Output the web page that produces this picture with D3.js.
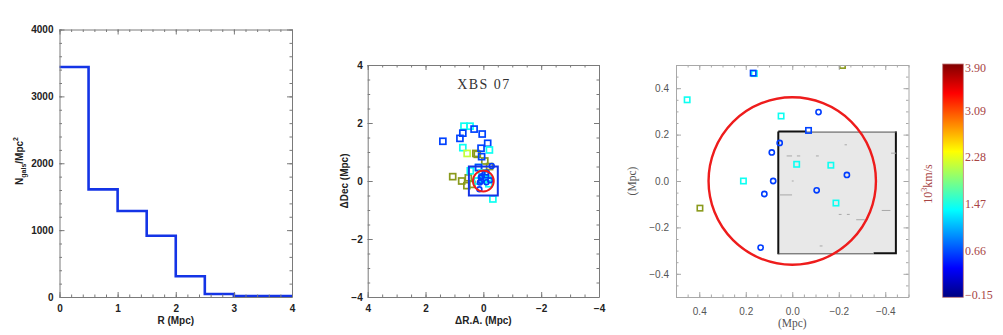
<!DOCTYPE html>
<html>
<head>
<meta charset="utf-8">
<script src="https://cdn.jsdelivr.net/npm/d3@7"></script>
<style>
  body { margin: 0; background: #fff; }
  svg { display: block; }
</style>
</head>
<body>
<script>
// radial density profile (bins of 0.5 Mpc)
var binEdges = [0, 0.5, 1, 1.5, 2, 2.5, 3, 3.5, 4];
var density = [3440, 1610, 1285, 915, 310, 45, 0, 0];

// square symbols: offsets in Mpc, velocity in 10^3 km/s
var sqRA  = [0.452, 0.163, 0.168, 0.048, 0.21, -0.019, -0.166, -0.188, -0.07,
             1.40, 0.67, 0.46, 0.32, 0.71, 0.81, 0.04, -0.15, 0.71, 0.08, -0.21, 0.56, 0.06, -0.33];
var sqDec = [0.35, 0.463, 0.465, 0.28, 0.0, 0.072, 0.068, -0.095, 0.218,
             1.37, 1.89, 1.89, 1.79, 1.65, 1.47, 1.62, 1.30, 1.15, 1.13, 1.07, 0.95, 0.84, -0.62];
var sqVel = [1.42, 1.42, 0.62, 1.42, 1.42, 1.42, 1.42, 1.42, 0.62,
             0.62, 1.42, 1.42, 0.62, 0.62, 0.62, 0.62, 0.62, 1.42, 0.62, 1.42, 2.15, 0.62, 1.42];

// olive squares (outside the velocity range)
var olRA  = [0.397, -0.216, 0.26, 0.21, -0.05, 1.06, 0.75, 0.52, 0.57];
var olDec = [-0.117, 0.498, 0.95, 0.92, 0.69, 0.15, 0.0, 0.11, -0.16];

// circle symbols
var ciRA  = [-0.113, 0.054, 0.088, 0.082, 0.12, -0.105, -0.235, 0.136, -0.29];
var ciDec = [0.297, 0.164, 0.123, 0.0, -0.056, -0.04, 0.026, -0.287, 0.52];
var ciVel = [0.6, 0.6, 0.6, 0.6, 0.6, 0.6, 0.6, 0.6, 0.6];

var rCircle = 0.36;          // Mpc
var boxHalf = 0.5;           // zoom box
var imgX = [0.06, -0.45], imgY = [0.213, -0.316];   // image footprint
// specks on the image: x0, x1, y
var speckX0 = [0.024, -0.02, -0.102, 0.053, -0.385, -0.275, -0.2, -0.235, -0.118, -0.225, -0.425, 0.002];
var speckX1 = [0.003, -0.032, -0.112, 0.003, -0.42, -0.31, -0.21, -0.245, -0.128, -0.233, -0.445, -0.004];
var speckY  = [0.108, 0.108, 0.108, -0.06, -0.127, -0.167, -0.144, -0.144, -0.28, 0.156, 0.12, 0.0];

var cbTicks = [-0.15, 0.66, 1.47, 2.28, 3.09, 3.90];
var cbRange = [-0.15, 3.90];

var jetStops = [0, 0.125, 0.375, 0.625, 0.875, 1];
var jetColors = ["#000080", "#0000ff", "#00ffff", "#ffff00", "#ff0000", "#800000"];
var jet = d3.scaleLinear().domain(jetStops).range(jetColors);
var velColor = function (v) {
  return jet((v - cbRange[0]) / (cbRange[1] - cbRange[0]));
};
var olive = "#8a9a1c";

var svg = d3.select("body").append("svg")
  .attr("width", 1003)
  .attr("height", 335);

// draws IDL style box: inward ticks on all four sides
function drawFrame(g, x, y, o) {
  var xr = x.range(), yr = y.range();
  var sides = [
    [d3.axisBottom(x), "translate(0," + yr[0] + ")", o.xMajor, o.xMinor, o.xFmt, o.xPad],
    [d3.axisTop(x), "translate(0," + yr[1] + ")", o.xMajor, o.xMinor, null, 0],
    [d3.axisLeft(y), "translate(" + xr[0] + ",0)", o.yMajor, o.yMinor, o.yFmt, o.yPad],
    [d3.axisRight(y), "translate(" + xr[1] + ",0)", o.yMajor, o.yMinor, null, 0],
  ];
  sides.forEach(function (s) {
    var minor = s[0].copy ? null : null;
    g.append("g")
      .attr("transform", s[1])
      .call(s[0].tickValues(s[3]).tickSize(-o.minorLen).tickSizeOuter(0).tickFormat(""))
      .select(".domain").remove();
    var ax = g.append("g")
      .attr("class", "ax")
      .attr("transform", s[1])
      .call(s[0].tickValues(s[2]).tickSize(-o.majorLen).tickSizeOuter(0)
        .tickPadding(s[5]).tickFormat(s[4] ? s[4] : ""));
  });
  g.selectAll("line, .domain").attr("stroke", o.frameColor).attr("stroke-width", 1);
  g.selectAll("text")
    .attr("fill", o.textColor)
    .style("font-family", o.font)
    .style("font-size", o.fontSize)
    .style("font-weight", o.weight);
}

// ---------- left panel: density profile ----------
var x1 = d3.scaleLinear().domain([0, 4]).range([59.5, 292]);
var y1 = d3.scaleLinear().domain([0, 4000]).range([297, 29.5]);

var p1 = svg.append("g");
p1.append("path")
  .datum(binEdges.map(function (e, i) {
    return [e, density[Math.min(i, density.length - 1)]];
  }))
  .attr("fill", "none")
  .attr("stroke", "#1434e6")
  .attr("stroke-width", 2.6)
  .attr("d", d3.line()
    .x(function (d) { return x1(d[0]); })
    .y(function (d) { return Math.min(y1(d[1]), 296); })
    .curve(d3.curveStepAfter));

drawFrame(p1, x1, y1, {
  xMajor: [0, 1, 2, 3, 4], xMinor: d3.range(0, 4.01, 0.2),
  yMajor: [0, 1000, 2000, 3000, 4000], yMinor: d3.range(0, 4001, 200),
  xFmt: d3.format("d"), yFmt: d3.format("d"), xPad: 8, yPad: 6,
  majorLen: 5, minorLen: 2.5, frameColor: "#7a7a7a", textColor: "#222",
  font: "'Liberation Sans', Arial, sans-serif", fontSize: "10px", weight: "bold"
});

p1.append("text")
  .attr("x", x1(2)).attr("y", 324)
  .attr("text-anchor", "middle")
  .attr("fill", "#222")
  .style("font", "bold 10px 'Liberation Sans', Arial, sans-serif")
  .text("R (Mpc)");

var yl1 = p1.append("text")
  .attr("transform", "translate(23,161) rotate(-90)")
  .attr("text-anchor", "middle")
  .attr("fill", "#222")
  .style("font", "bold 10px 'Liberation Sans', Arial, sans-serif");
yl1.append("tspan").text("N");
yl1.append("tspan").attr("dy", 3).style("font-size", "7px").text("gals");
yl1.append("tspan").attr("dy", -3).text("/Mpc");
yl1.append("tspan").attr("dy", -5).style("font-size", "7px").text("2");

// ---------- middle panel: sky positions ----------
var x2 = d3.scaleLinear().domain([4, -4]).range([367.7, 599]);
var y2 = d3.scaleLinear().domain([-4, 4]).range([297, 65]);

var p2 = svg.append("g");

drawFrame(p2, x2, y2, {
  xMajor: [4, 2, 0, -2, -4], xMinor: d3.range(-4, 4.01, 0.5),
  yMajor: [-4, -2, 0, 2, 4], yMinor: d3.range(-4, 4.01, 0.5),
  xFmt: d3.format("d"), yFmt: d3.format("d"), xPad: 7.5, yPad: 5,
  majorLen: 5, minorLen: 2.5, frameColor: "#7a7a7a", textColor: "#222",
  font: "'Liberation Sans', Arial, sans-serif", fontSize: "10px", weight: "bold"
});

function drawPoints(g, x, y, half, r, sw) {
  g.selectAll(".ol")
    .data(olRA)
    .enter()
    .append("rect")
    .attr("x", function (d) { return x(d) - half; })
    .attr("y", function (d, i) { return y(olDec[i]) - half; })
    .attr("width", half * 2).attr("height", half * 2)
    .attr("fill", "none").attr("stroke", olive).attr("stroke-width", sw);
  g.selectAll(".sq")
    .data(sqRA)
    .enter()
    .append("rect")
    .attr("x", function (d) { return x(d) - half; })
    .attr("y", function (d, i) { return y(sqDec[i]) - half; })
    .attr("width", half * 2).attr("height", half * 2)
    .attr("fill", "none")
    .attr("stroke", function (d, i) { return velColor(sqVel[i]); })
    .attr("stroke-width", sw);
  g.selectAll(".ci")
    .data(ciRA)
    .enter()
    .append("circle")
    .attr("cx", function (d) { return x(d); })
    .attr("cy", function (d, i) { return y(ciDec[i]); })
    .attr("r", r)
    .attr("fill", "none")
    .attr("stroke", function (d, i) { return velColor(ciVel[i]); })
    .attr("stroke-width", sw);
}

drawPoints(p2.append("g"), x2, y2, 3, 2.4, 1.7);

p2.append("rect")
  .attr("x", x2(boxHalf)).attr("y", y2(boxHalf))
  .attr("width", x2(-boxHalf) - x2(boxHalf))
  .attr("height", y2(-boxHalf) - y2(boxHalf))
  .attr("fill", "none").attr("stroke", "#1434e6").attr("stroke-width", 2);

p2.append("circle")
  .attr("cx", x2(0)).attr("cy", y2(0))
  .attr("r", x2(0) - x2(rCircle))
  .attr("fill", "none").attr("stroke", "#ee1c1c").attr("stroke-width", 2);

p2.append("text")
  .attr("x", 484).attr("y", 89)
  .attr("text-anchor", "middle")
  .attr("fill", "#333")
  .style("font", "14px 'Liberation Serif', 'Times New Roman', serif")
  .style("letter-spacing", "1.5px")
  .text("XBS 07");

p2.append("text")
  .attr("x", x2(0)).attr("y", 324)
  .attr("text-anchor", "middle")
  .attr("fill", "#222")
  .style("font", "bold 10px 'Liberation Sans', Arial, sans-serif")
  .text("ΔR.A. (Mpc)");

p2.append("text")
  .attr("transform", "translate(348," + y2(0) + ") rotate(-90)")
  .attr("text-anchor", "middle")
  .attr("fill", "#222")
  .style("font", "bold 10px 'Liberation Sans', Arial, sans-serif")
  .text("ΔDec (Mpc)");

// ---------- right panel: zoom on the core ----------
var x3 = d3.scaleLinear().domain([0.5, -0.5]).range([676, 908.5]);
var y3 = d3.scaleLinear().domain([-0.5, 0.5]).range([297, 65]);

var p3 = svg.append("g");
svg.append("clipPath").attr("id", "clip3")
  .append("rect")
  .attr("x", 676).attr("y", 65).attr("width", 232.5).attr("height", 232);

var inner = p3.append("g").attr("clip-path", "url(#clip3)");

// image footprint
var ix0 = x3(imgX[0]), ix1 = x3(imgX[1]), iy0 = y3(imgY[0]), iy1 = y3(imgY[1]);
inner.append("rect")
  .attr("x", ix0).attr("y", iy0)
  .attr("width", ix1 - ix0).attr("height", iy1 - iy0)
  .attr("fill", "#e8e8e8");
inner.append("path")
  .attr("d", "M" + ix0 + "," + iy0 + "H" + x3(-0.06) + "M" + ix0 + "," + iy0 + "V" + iy1 +
    "M" + (ix1 - 1) + "," + iy0 + "V" + iy1 + "M" + x3(-0.35) + "," + (iy1 - 1) + "H" + ix1)
  .attr("stroke", "#111").attr("stroke-width", 2).attr("fill", "none");
inner.append("path")
  .attr("d", "M" + x3(-0.06) + "," + (iy0 + 0.5) + "H" + ix1 + "M" + ix0 + "," + (iy1 - 0.5) + "H" + x3(-0.35))
  .attr("stroke", "#555").attr("stroke-width", 1).attr("fill", "none");
inner.selectAll(".speck")
  .data(speckX0)
  .enter()
  .append("line")
  .attr("x1", function (d) { return x3(d); })
  .attr("x2", function (d, i) { return x3(speckX1[i]) + 0.5; })
  .attr("y1", function (d, i) { return y3(speckY[i]); })
  .attr("y2", function (d, i) { return y3(speckY[i]); })
  .attr("stroke", "#333").attr("stroke-width", 1.4);

inner.append("circle")
  .attr("cx", x3(0)).attr("cy", y3(0))
  .attr("r", x3(0) - x3(rCircle))
  .attr("fill", "none").attr("stroke", "#ee1c1c").attr("stroke-width", 2.4);

drawPoints(inner, x3, y3, 2.7, 2.6, 1.6);

drawFrame(p3, x3, y3, {
  xMajor: [0.4, 0.2, 0, -0.2, -0.4], xMinor: d3.range(-0.5, 0.501, 0.05),
  yMajor: [-0.4, -0.2, 0, 0.2, 0.4], yMinor: d3.range(-0.5, 0.501, 0.05),
  xFmt: d3.format(".1f"), yFmt: d3.format(".1f"), xPad: 11, yPad: 7,
  majorLen: 5, minorLen: 2.5, frameColor: "#a8a8a8", textColor: "#555",
  font: "'Liberation Sans', Arial, sans-serif", fontSize: "10px", weight: "normal"
});

p3.append("text")
  .attr("x", x3(0)).attr("y", 327)
  .attr("text-anchor", "middle")
  .attr("fill", "#555")
  .style("font", "11.5px 'Liberation Serif', 'Times New Roman', serif")
  .text("(Mpc)");

p3.append("text")
  .attr("transform", "translate(636," + y3(0) + ") rotate(-90)")
  .attr("text-anchor", "middle")
  .attr("fill", "#555")
  .style("font", "11.5px 'Liberation Serif', 'Times New Roman', serif")
  .text("(Mpc)");

// ---------- colour bar ----------
var cy = d3.scaleLinear().domain(cbRange).range([297.3, 64]);
var grad = svg.append("defs").append("linearGradient")
  .attr("id", "jet")
  .attr("x1", 0).attr("y1", 1).attr("x2", 0).attr("y2", 0);
grad.selectAll("stop")
  .data(jetStops)
  .enter()
  .append("stop")
  .attr("offset", function (d) { return d; })
  .attr("stop-color", function (d, i) { return jetColors[i]; });

var cb = svg.append("g");
cb.append("rect")
  .attr("x", 942.7).attr("y", cy(cbRange[1]))
  .attr("width", 20.6).attr("height", cy(cbRange[0]) - cy(cbRange[1]))
  .attr("fill", "url(#jet)")
  .attr("stroke", "#c07878").attr("stroke-width", 0.8);

cb.selectAll(".cbl")
  .data(cbTicks)
  .enter()
  .append("text")
  .attr("x", 965)
  .attr("y", function (d) { return Math.min(Math.max(cy(d) + 4, 72), 299); })
  .attr("fill", "#a84444")
  .style("font", "12px 'Liberation Serif', 'Times New Roman', serif")
  .text(d3.format(".2f"));

var cbl = cb.append("text")
  .attr("transform", "translate(932,184) rotate(-90)")
  .attr("text-anchor", "middle")
  .attr("fill", "#a84444")
  .style("font", "12px 'Liberation Serif', 'Times New Roman', serif");
cbl.append("tspan").text("10");
cbl.append("tspan").attr("dy", -5).style("font-size", "8px").text("3");
cbl.append("tspan").attr("dy", 5).text("km/s");
</script>
</body>
</html>
